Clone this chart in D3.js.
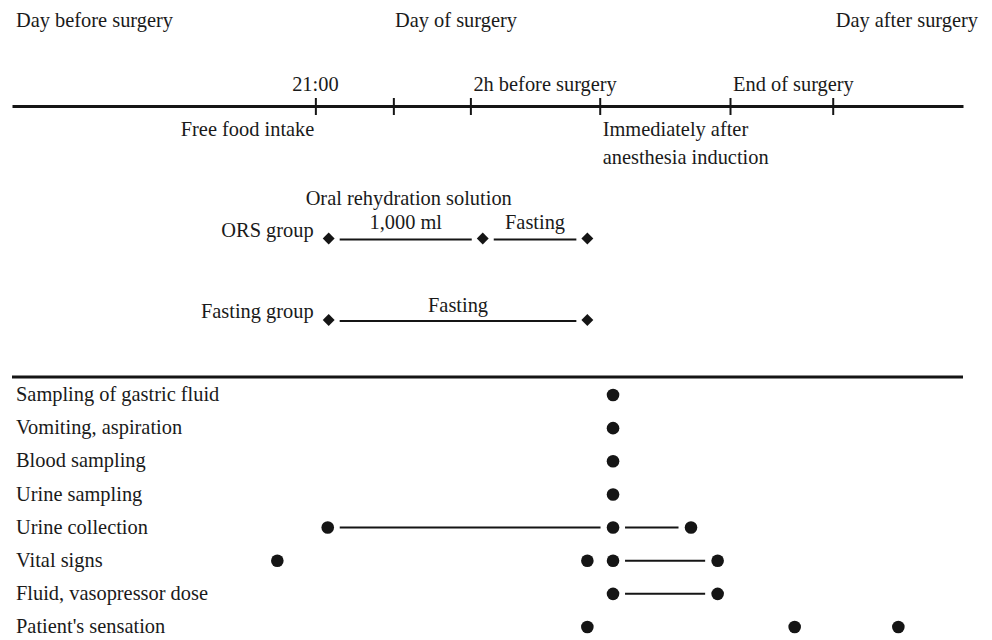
<!DOCTYPE html>
<html>
<head>
<meta charset="utf-8">
<script src="https://cdn.jsdelivr.net/npm/d3@7"></script>
<style>
  html, body { margin: 0; padding: 0; background: #fff; }
  svg { display: block; }
  text { font-family: "Liberation Serif", "Times New Roman", serif; font-size: 20.4px; fill: #1a1a1a; }
</style>
</head>
<body>
<svg id="chart" width="992" height="640"></svg>
<script>
// ---------- DATA (timeline position in % of the time axis) ----------
const dayLabels = ["Day before surgery", "Day of surgery", "Day after surgery"];
const timelineTicks = [31.9, 40.1, 48.2, 61.8, 75.5, 86.3];
const aboveTickLabels = [
  { t: 31.9, text: "21:00", anchor: "middle" },
  { t: 48.2, text: "2h before surgery", anchor: "start" },
  { t: 75.5, text: "End of surgery", anchor: "start" }
];
const belowTickLabels = [
  { t: 31.9, lines: ["Free food intake"], anchor: "end" },
  { t: 61.8, lines: ["Immediately after", "anesthesia induction"], anchor: "start" }
];

const groupNames = ["ORS group", "Fasting group"];
const orsTimes = [33.3, 49.5, 60.5];
const orsPhases = ["1,000 ml", "Fasting"];
const orsTitle = "Oral rehydration solution";
const fastingTimes = [33.3, 60.5];
const fastingPhases = ["Fasting"];

const measureNames = [
  "Sampling of gastric fluid",
  "Vomiting, aspiration",
  "Blood sampling",
  "Urine sampling",
  "Urine collection",
  "Vital signs",
  "Fluid, vasopressor dose",
  "Patient's sensation"
];
const measurePoints = [
  [63.2],
  [63.2],
  [63.2],
  [63.2],
  [33.2, 63.2, 71.4],
  [27.9, 60.5, 63.2, 74.2],
  [63.2, 74.2],
  [60.5, 82.3, 93.2]
];
const measureSpans = [
  [],
  [],
  [],
  [],
  [[33.2, 63.2], [63.2, 71.4]],
  [[63.2, 74.2]],
  [[63.2, 74.2]],
  []
];

// ---------- LAYOUT ----------
const svg = d3.select("#chart");
const ink = "#151515";
const x = d3.scaleLinear().domain([0, 100]).range([12, 963]);
const axisY = 106;
const sepY = 377;

// Day headers
svg.append("text").attr("x", 16).attr("y", 27).attr("text-anchor", "start").text(dayLabels[0]);
svg.append("text").attr("x", 456).attr("y", 27).attr("text-anchor", "middle").text(dayLabels[1]);
svg.append("text").attr("x", 978).attr("y", 27).attr("text-anchor", "end").text(dayLabels[2]);

// Timeline axis
const axis = d3.axisBottom(x).tickValues(timelineTicks).tickSize(0).tickFormat("");
const gAxis = svg.append("g").attr("transform", `translate(0,${axisY})`).call(axis);
gAxis.select(".domain").attr("stroke", ink).attr("stroke-width", 3);
gAxis.selectAll(".tick line")
  .attr("y1", -8).attr("y2", 9)
  .attr("stroke", ink).attr("stroke-width", 2);

svg.selectAll("text.above").data(aboveTickLabels).join("text")
  .attr("class", "above")
  .attr("x", d => x(d.t) + (d.anchor === "start" ? 3 : 0))
  .attr("y", 91)
  .attr("text-anchor", d => d.anchor)
  .text(d => d.text);

belowTickLabels.forEach(d => {
  d.lines.forEach((ln, i) => {
    svg.append("text")
      .attr("x", x(d.t) + (d.anchor === "start" ? 3 : -1))
      .attr("y", 136 + i * 28)
      .attr("text-anchor", d.anchor)
      .text(ln);
  });
});

// Group rows (diamonds)
const diamond = d3.symbol().type(d3.symbolDiamond2).size(90);
function groupRow(name, times, phases, rowY, labelY, gap) {
  svg.append("text").attr("x", x(times[0]) - 15).attr("y", rowY - 2)
    .attr("text-anchor", "end").text(name);
  const segs = d3.pairs(times);
  svg.selectAll(null).data(segs).join("line")
    .attr("x1", d => x(d[0]) + gap).attr("x2", d => x(d[1]) - gap)
    .attr("y1", rowY + 1).attr("y2", rowY + 1)
    .attr("stroke", ink).attr("stroke-width", 2);
  svg.selectAll(null).data(segs).join("text")
    .attr("x", d => (x(d[0]) + x(d[1])) / 2)
    .attr("y", labelY)
    .attr("text-anchor", "middle")
    .text((d, i) => phases[i]);
  svg.selectAll(null).data(times).join("path")
    .attr("d", diamond)
    .attr("transform", d => `translate(${x(d)},${rowY})`)
    .attr("fill", ink);
}
svg.append("text")
  .attr("x", (x(orsTimes[0]) + x(orsTimes[1])) / 2 + 3)
  .attr("y", 205).attr("text-anchor", "middle").text(orsTitle);
groupRow(groupNames[0], orsTimes, orsPhases, 238.5, 229, 11);
groupRow(groupNames[1], fastingTimes, fastingPhases, 320, 312, 11);

// Separator
svg.append("line").attr("x1", x(0)).attr("x2", x(100))
  .attr("y1", sepY).attr("y2", sepY)
  .attr("stroke", ink).attr("stroke-width", 3);

// Measurement rows
const y = d3.scalePoint().domain(measureNames).range([395, 627]);
svg.selectAll("text.measure").data(measureNames).join("text")
  .attr("class", "measure")
  .attr("x", 16).attr("y", d => y(d)).attr("dy", "0.3em")
  .text(d => d);

measureNames.forEach((name, i) => {
  const cy = y(name);
  svg.selectAll(null).data(measureSpans[i]).join("line")
    .attr("x1", d => x(d[0]) + 12).attr("x2", d => x(d[1]) - 12.5)
    .attr("y1", cy).attr("y2", cy)
    .attr("stroke", ink).attr("stroke-width", 2);
  svg.selectAll(null).data(measurePoints[i]).join("circle")
    .attr("cx", d => x(d)).attr("cy", cy).attr("r", 6.3)
    .attr("fill", ink);
});
</script>
</body>
</html>
